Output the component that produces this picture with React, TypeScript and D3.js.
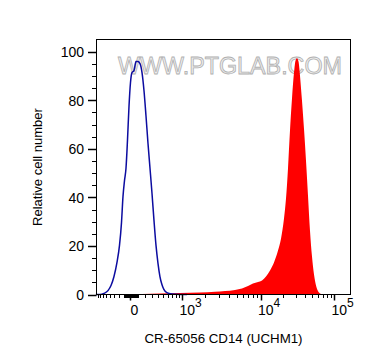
import React, { useRef, useEffect } from "react";
import * as d3 from "d3";

// unstained control (blue outline)
const blueX = [-870, -708, -577, -458, -380, -310, -245, -194, -155, -127, -99, -72, -45, -18, 6, 25, 51, 76, 102, 129, 156, 183, 211, 241, 271, 302, 334, 368, 403, 439, 477, 516, 579, 704, 934, 1163];
const blueY = [0, 0, 0.4, 1.6, 3.7, 7.4, 13.2, 20.2, 29.6, 40.3, 46.9, 51.9, 63.4, 77.4, 87.2, 91.4, 92.2, 95.9, 95.9, 95.1, 91.4, 84.0, 73.7, 62.1, 51.9, 41.6, 30.5, 20.2, 12.8, 7.4, 4.1, 2.1, 0.8, 0.2, 0, 0];

// CD14 stained (red filled)
const redX = [156, 439, 934, 1723, 2676, 3580, 4785, 5860, 6971, 8051, 9305, 10485, 11880, 13470, 15270, 17310, 19010, 20890, 22240, 23670, 25200, 26830, 28570, 29940, 31380, 32890, 34470, 36700, 39070, 41600, 44290, 47150, 50200, 53450, 56910, 60580, 64500, 70860];
const redY = [0.2, 0.4, 0.6, 0.8, 1.1, 1.4, 1.9, 2.5, 3.5, 4.5, 5.1, 5.8, 7.4, 9.9, 13.2, 18.1, 23.0, 31.3, 39.5, 51.9, 67.5, 80.7, 91.4, 96.3, 97.3, 95.9, 90.1, 79.8, 68.3, 55.1, 40.7, 26.3, 15.6, 8.2, 3.7, 1.4, 0.4, 0];

const xMajor = [0, 1000, 10000, 100000];
const xMajorExp = ["", "3", "4", "5"];
const yMajor = [0, 20, 40, 60, 80, 100];

const xMin = -870;
const xMax = 170000;

const FONT = "'Liberation Sans', Arial, sans-serif";

const App = () => {
  const svgRef = useRef<SVGSVGElement>(null);

  useEffect(() => {
    const svg = d3.select(svgRef.current);
    svg.selectAll("*").remove();

    // biexponential-ish transform
    const T = (v: number) => Math.asinh(v / 400);
    const xs = d3
      .scaleLinear()
      .domain([T(-1000), T(0), T(1e3), T(1e4), T(1e5)])
      .range([93, 130, 182, 260.5, 334]);
    const x = (v: number) => xs(T(v));
    const y = d3.scaleLinear().domain([0, 105]).range([294.5, 39.5]);

    const left = Math.round(x(xMin)) + 0.5;
    const right = Math.round(x(xMax)) - 0.5;
    const bottom = y(0);
    const top = y(105);

    // watermark
    svg
      .append("text")
      .attr("x", 118)
      .attr("y", 73.5)
      .attr("textLength", 224)
      .attr("lengthAdjust", "spacingAndGlyphs")
      .attr("font-family", FONT)
      .attr("font-size", 23)
      .attr("fill", "#eeeeee")
      .attr("stroke", "#b0b0b0")
      .attr("stroke-width", 0.8)
      .text("WWW.PTGLAB.COM");

    // red filled histogram
    const redData = redX.map((v, i) => [v, redY[i]]);
    const area = d3
      .area<number[]>()
      .x((d) => x(d[0]))
      .y0(bottom)
      .y1((d) => y(d[1]))
      .curve(d3.curveMonotoneX);
    svg.append("path").attr("d", area(redData)).attr("fill", "#ff0000");

    // blue outline histogram
    const blueData = blueX.map((v, i) => [v, blueY[i]]);
    const line = d3
      .line<number[]>()
      .x((d) => x(d[0]))
      .y((d) => y(d[1]))
      .curve(d3.curveMonotoneX);
    svg
      .append("path")
      .attr("d", line(blueData))
      .attr("fill", "none")
      .attr("stroke", "#0c0ca0")
      .attr("stroke-width", 1.5);

    // frame
    svg
      .append("rect")
      .attr("x", left)
      .attr("y", top)
      .attr("width", right - left)
      .attr("height", bottom - top)
      .attr("fill", "none")
      .attr("stroke", "#000")
      .attr("stroke-width", 1);

    // x ticks
    const xMinor = [
      ...d3.range(-900, 0, 100),
      ...d3.range(-90, 0, 10),
      ...d3.range(10, 100, 10),
      ...d3.range(100, 1000, 100),
      ...d3.range(2000, 10000, 1000),
      ...d3.range(20000, 100000, 10000),
    ].filter((v) => v > xMin && v < xMax);

    const gx = svg.append("g").attr("stroke", "#000").attr("stroke-width", 1);
    gx.selectAll("line.minor")
      .data(xMinor)
      .enter()
      .append("line")
      .attr("x1", (d) => Math.round(x(d)) + 0.5)
      .attr("x2", (d) => Math.round(x(d)) + 0.5)
      .attr("y1", bottom)
      .attr("y2", bottom + 3.5);
    gx.selectAll("line.major")
      .data(xMajor)
      .enter()
      .append("line")
      .attr("x1", (d) => Math.round(x(d)) + 0.5)
      .attr("x2", (d) => Math.round(x(d)) + 0.5)
      .attr("y1", bottom)
      .attr("y2", bottom + 6)
      .attr("stroke-width", 1.5);

    xMajor.forEach((v, i) => {
      const t = svg
        .append("text")
        .attr("font-family", FONT)
        .attr("font-size", 14)
        .attr("fill", "#000")
        .attr("y", 315);
      if (v === 0) {
        t.attr("x", x(v) + 4.5).attr("text-anchor", "middle").text("0");
      } else {
        t.attr("x", x(v) - 2.5).attr("text-anchor", "start");
        t.append("tspan").text("10");
        t.append("tspan").attr("font-size", 12).attr("dy", -8).text(xMajorExp[i]);
      }
    });

    // y ticks
    const yMinor = d3.range(5, 105, 5).filter((v) => v % 20 !== 0);
    const gy = svg.append("g").attr("stroke", "#000").attr("stroke-width", 1);
    gy.selectAll("line.minor")
      .data(yMinor)
      .enter()
      .append("line")
      .attr("x1", left - 4.5)
      .attr("x2", left)
      .attr("y1", (d) => Math.round(y(d)) + 0.5)
      .attr("y2", (d) => Math.round(y(d)) + 0.5);
    gy.selectAll("line.major")
      .data(yMajor)
      .enter()
      .append("line")
      .attr("x1", left - 8.5)
      .attr("x2", left)
      .attr("y1", (d) => Math.round(y(d)) + 0.5)
      .attr("y2", (d) => Math.round(y(d)) + 0.5)
      .attr("stroke-width", 1.5);

    svg
      .selectAll("text.ylab")
      .data(yMajor)
      .enter()
      .append("text")
      .attr("x", left - 12.5)
      .attr("y", (d) => y(d) + 5.5)
      .attr("text-anchor", "end")
      .attr("font-family", FONT)
      .attr("font-size", 14)
      .attr("fill", "#000")
      .text((d) => String(d));

    // axis titles
    svg
      .append("text")
      .attr("transform", `translate(41.5,${(top + bottom) / 2}) rotate(-90)`)
      .attr("text-anchor", "middle")
      .attr("font-family", FONT)
      .attr("font-size", 13)
      .attr("fill", "#000")
      .text("Relative cell number");

    svg
      .append("text")
      .attr("x", (left + right) / 2)
      .attr("y", 343)
      .attr("text-anchor", "middle")
      .attr("font-family", FONT)
      .attr("font-size", 13.3)
      .attr("fill", "#000")
      .text("CR-65056 CD14 (UCHM1)");
  }, []);

  return (
    <svg
      ref={svgRef}
      width={372}
      height={364}
      style={{ position: "absolute", left: 0, top: 0, background: "#fff" }}
    />
  );
};

export default App;
